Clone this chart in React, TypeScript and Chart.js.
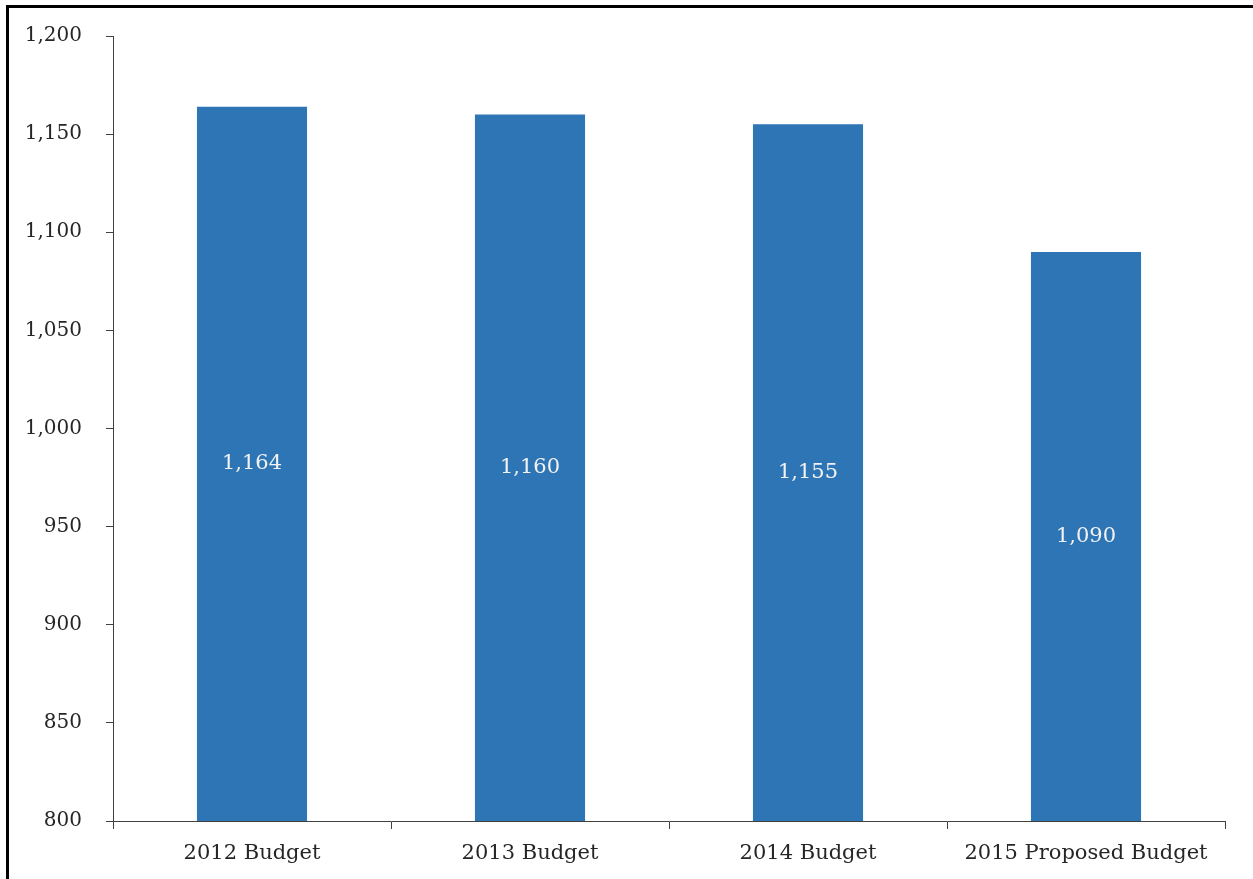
import React, { useEffect, useRef } from "react";
import { Chart, registerables } from "chart.js";

Chart.register(...registerables);

const categories = ["2012 Budget", "2013 Budget", "2014 Budget", "2015 Proposed Budget"];
const budgetValues = [1164, 1160, 1155, 1090];
const yMin = 800;
const yMax = 1200;
const yStep = 50;

const FONT = "'DejaVu Serif', 'Liberation Serif', serif";

const fmt = (v: number) => v.toLocaleString("en-US");

const barLabelPlugin = {
  id: "barLabels",
  afterDraw(chart: any) {
    const ctx = chart.ctx;
    const meta = chart.getDatasetMeta(0);
    const yScale = chart.scales.y;
    const xScale = chart.scales.x;
    ctx.save();
    ctx.font = `21px ${FONT}`;
    ctx.fillStyle = "#f2f2f2";
    ctx.textAlign = "center";
    ctx.textBaseline = "middle";
    budgetValues.forEach((v, i) => {
      const x = xScale.getPixelForValue(i);
      const top = yScale.getPixelForValue(v);
      const base = yScale.getPixelForValue(yMin);
      ctx.fillText(fmt(v), x, (top + base) / 2);
    });
    ctx.restore();
  },
};

export default function App() {
  const ref = useRef<HTMLCanvasElement | null>(null);
  useEffect(() => {
    if (!ref.current) return;
    const chart = new Chart(ref.current, {
      type: "bar",
      data: {
        labels: categories,
        datasets: [
          {
            data: budgetValues,
            backgroundColor: "#2E75B6",
            borderWidth: 0,
            barPercentage: 1,
            categoryPercentage: 0.396,
          },
        ],
      },
      options: {
        animation: false,
        responsive: false,
        maintainAspectRatio: false,
        layout: { padding: { left: 0, top: 36, right: 28, bottom: 0 } },
        plugins: { legend: { display: false }, tooltip: { enabled: false } },
        scales: {
          x: {
            grid: {
              display: true,
              drawOnChartArea: false,
              drawTicks: true,
              tickLength: 8,
              color: "#404040",
              offset: true,
            },
            border: { display: true, color: "#404040", width: 1 },
            ticks: {
              color: "#262626",
              font: { family: FONT, size: 21 },
              padding: 12,
              maxRotation: 0,
              autoSkip: false,
            },
            afterFit: (scale: any) => {
              scale.height = 58;
            },
          },
          y: {
            min: yMin,
            max: yMax,
            grid: {
              display: true,
              drawOnChartArea: false,
              drawTicks: true,
              tickLength: 7,
              color: "#404040",
            },
            border: { display: true, color: "#404040", width: 1 },
            ticks: {
              stepSize: yStep,
              color: "#262626",
              font: { family: FONT, size: 20 },
              padding: 24,
              callback: (v: any) => fmt(Number(v)),
            },
            afterFit: (scale: any) => {
              scale.width = 113;
            },
          },
        },
      },
      plugins: [barLabelPlugin],
    });
    return () => chart.destroy();
  }, []);

  return (
    <div
      style={{
        position: "fixed",
        left: 0,
        top: 0,
        width: 1253,
        height: 879,
        overflow: "hidden",
        background: "#fff",
      }}
    >
      <canvas ref={ref} width={1253} height={879} style={{ position: "absolute", left: 0, top: 0 }} />
      <div
        style={{
          position: "absolute",
          left: 6,
          top: 5,
          width: 1300,
          height: 900,
          borderTop: "3px solid #000",
          borderLeft: "3px solid #000",
          pointerEvents: "none",
        }}
      />
    </div>
  );
}
